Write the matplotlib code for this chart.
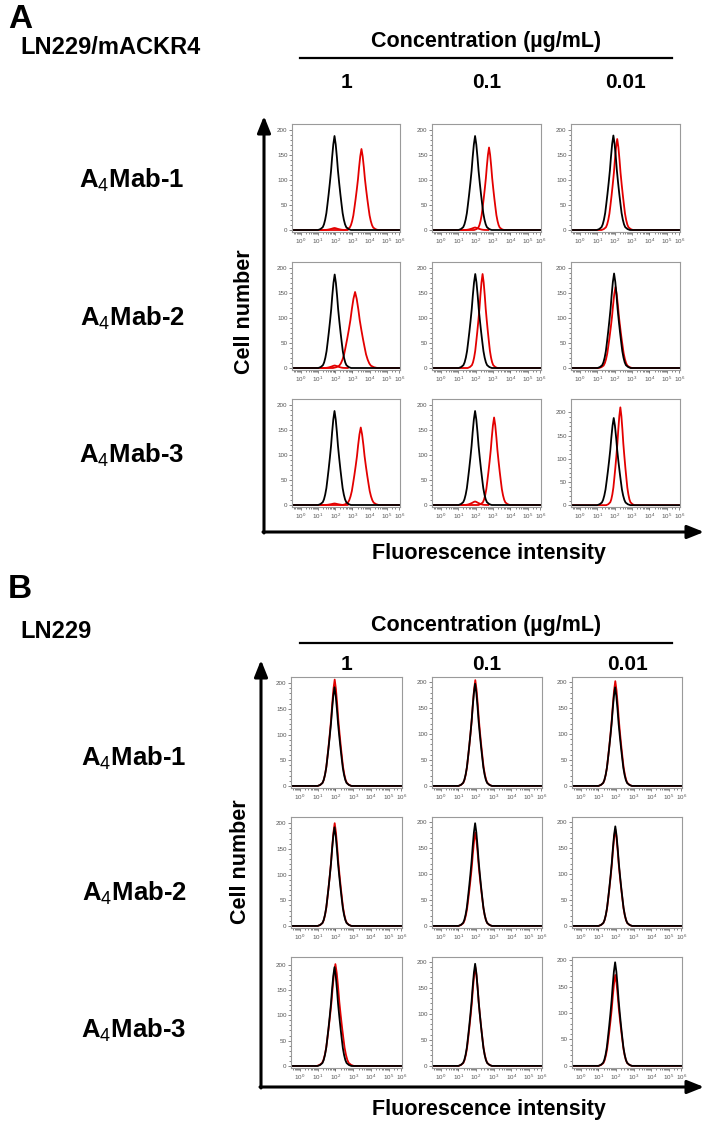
import numpy as np
import matplotlib.pyplot as plt

plt.rcParams['font.family'] = ['Liberation Sans', 'DejaVu Sans']
plt.rcParams['mathtext.fontset'] = 'custom'
plt.rcParams['mathtext.rm'] = 'Liberation Sans'
plt.rcParams['mathtext.bf'] = 'Liberation Sans:bold'
plt.rcParams['mathtext.it'] = 'Liberation Sans:italic'

# ---- data (x in decades of fluorescence, y = cell count) ----
CONCENTRATIONS = ["1", "0.1", "0.01"]
ANTIBODIES = ["A$_4$Mab-1", "A$_4$Mab-2", "A$_4$Mab-3"]
XTICK_LABELS = [r"$10^{0}$", r"$10^{1}$", r"$10^{2}$", r"$10^{3}$",
                r"$10^{4}$", r"$10^{5}$", r"$10^{6}$"]

# shape of one histogram peak (offset in decades, relative height)
SHAPE_OFFSET = [-0.95, -0.81, -0.68, -0.61, -0.54, -0.47, -0.41, -0.34, -0.27,
                -0.20, -0.14, -0.07, 0.00, 0.07, 0.14, 0.20, 0.27, 0.34, 0.41,
                0.47, 0.54, 0.61, 0.68, 0.81, 0.95]
SHAPE_LEVEL = [0.0, 0.01, 0.03, 0.06, 0.11, 0.18, 0.27, 0.38, 0.50, 0.63,
               0.77, 0.91, 1.00, 0.91, 0.77, 0.63, 0.50, 0.38, 0.27, 0.18,
               0.11, 0.06, 0.03, 0.01, 0.0]

# panel A: LN229/mACKR4   (rows = antibody, cols = concentration)
A_BLACK_CENTER = [[1.96, 1.97, 1.93], [1.97, 1.98, 1.97], [1.96, 1.97, 1.95]]
A_BLACK_HEIGHT = [[188, 188, 189], [187, 188, 189], [188, 188, 188]]
A_RED_CENTER = [[3.52, 2.77, 2.15], [3.15, 2.40, 2.05], [3.48, 3.06, 2.33]]
A_RED_HEIGHT = [[162, 165, 182], [152, 188, 162], [155, 175, 211]]
A_RED_WIDTH = [[1.0, 0.9, 0.95], [1.35, 0.9, 1.0], [1.1, 0.95, 0.85]]
A_BUMP_HEIGHT = [[4, 5, 0], [5, 0, 0], [3, 7, 0]]
A_YTOP = [[212, 212, 212], [212, 212, 212], [212, 212, 229]]

# panel B: LN229
B_BLACK_CENTER = [[1.95, 1.95, 1.95], [1.95, 1.95, 1.96], [1.95, 1.95, 1.95]]
B_BLACK_HEIGHT = [[192, 197, 190], [192, 198, 192], [195, 196, 196]]
B_RED_CENTER = [[1.96, 1.96, 1.96], [1.96, 1.96, 1.96], [2.0, 1.96, 1.96]]
B_RED_HEIGHT = [[207, 204, 202], [200, 180, 186], [201, 190, 172]]
B_RED_WIDTH = [[1.0, 1.0, 1.0], [1.0, 1.0, 1.0], [1.1, 1.0, 1.0]]
B_BUMP_HEIGHT = [[0, 0, 0], [0, 0, 0], [0, 0, 0]]
B_YTOP = [[212, 210, 210], [212, 210, 210], [215, 209, 206]]

W, H = 708, 1127
RED = "#e30000"
XMIN, XMAX = -0.5, 5.75

fig = plt.figure(figsize=(W / 100, H / 100), dpi=100)

# overlay in pixel coordinates for labels and the big arrows
ov = fig.add_axes([0, 0, 1, 1], zorder=-1)
ov.set_xlim(0, W)
ov.set_ylim(H, 0)
ov.axis("off")


def px_box(l, t, r, b):
    return [l / W, 1 - b / H, (r - l) / W, (b - t) / H]


def draw_hist(ax, bc, bh, rc, rh, rw, bump, ytop):
    off = np.array(SHAPE_OFFSET)
    lev = np.array(SHAPE_LEVEL)
    if bump:
        ax.plot(bc + 0.8 * off, bump * lev, color=RED, lw=1.3)
    ax.plot(np.concatenate([[XMIN], rc + rw * off, [XMAX]]),
            np.concatenate([[0], rh * lev, [0]]), color=RED, lw=1.3)
    ax.plot(np.concatenate([[XMIN], bc + off, [XMAX]]),
            np.concatenate([[0], bh * lev, [0]]), color="black", lw=1.3)

    ax.set_xlim(XMIN, XMAX)
    ax.set_ylim(-4, ytop)
    ax.set_xticks([0, 1, 2, 3, 4, 5, 5.72])
    ax.set_xticklabels(XTICK_LABELS)
    minor = [d + np.log10(k) for d in range(-1, 6) for k in range(2, 10)]
    ax.set_xticks([m for m in minor if XMIN < m < 5.5], minor=True)
    ax.set_yticks([0, 50, 100, 150, 200])
    ax.set_yticks(np.arange(0, 201, 10), minor=True)
    ax.tick_params(which="both", direction="out", width=0.5, colors="#555555",
                   labelsize=4.5, pad=1)
    ax.tick_params(which="major", length=2.2)
    ax.tick_params(which="minor", length=1.2)
    for s in ax.spines.values():
        s.set_color("#9a9a9a")
        s.set_linewidth(0.8)


def draw_block(cols, tops, h, data, cell, title_y, line_y, num_y, lab_x,
               lab_ys, arrow_x, arrow_top, arrow_y, panel, panel_y):
    bc, bh, rc, rh, rw, bump, ytop = data
    for i, t in enumerate(tops):
        for j, (l, r) in enumerate(cols):
            ax = fig.add_axes(px_box(l, t, r, t + h))
            draw_hist(ax, bc[i][j], bh[i][j], rc[i][j], rh[i][j], rw[i][j],
                      bump[i][j], ytop[i][j])
    # labels
    ov.text(8, panel_y, panel, fontsize=24, weight="bold", ha="left", va="center")
    ov.text(20, title_y + 6, cell, fontsize=17, weight="bold", ha="left", va="center")
    ov.text(486, title_y, "Concentration (µg/mL)", fontsize=15.5, weight="bold",
            ha="center", va="center")
    ov.plot([300, 672], [line_y, line_y], color="black", lw=1.6)
    for (l, r), c in zip(cols, CONCENTRATIONS):
        ov.text((l + r) / 2, num_y, c, fontsize=15, weight="bold",
                ha="center", va="center")
    for y, name in zip(lab_ys, ANTIBODIES):
        ov.text(lab_x, y, name, fontsize=18.5, weight="bold", ha="center", va="center")
    arrow = dict(arrowstyle="-|>,head_length=0.5,head_width=0.2", lw=2.2,
                 color="black", shrinkA=0, shrinkB=0, mutation_scale=20)
    ov.annotate("", xy=(arrow_x, arrow_top), xytext=(arrow_x, arrow_y + 1),
                arrowprops=arrow)
    ov.annotate("", xy=(704, arrow_y), xytext=(arrow_x - 1, arrow_y),
                arrowprops=arrow)
    ov.text(arrow_x - 20, (arrow_top + arrow_y) / 2 - 12, "Cell number",
            fontsize=15.5, weight="bold", rotation=90, ha="center", va="center")
    ov.text(489, arrow_y + 22, "Fluorescence intensity", fontsize=15.5,
            weight="bold", ha="center", va="center")


draw_block(cols=[(292, 400), (432, 541), (571, 680)], tops=[124, 262, 399], h=108,
           data=(A_BLACK_CENTER, A_BLACK_HEIGHT, A_RED_CENTER, A_RED_HEIGHT,
                 A_RED_WIDTH, A_BUMP_HEIGHT, A_YTOP),
           cell="LN229/mACKR4", title_y=42, line_y=58, num_y=82, lab_x=132,
           lab_ys=[180, 318, 455], arrow_x=264, arrow_top=116, arrow_y=532,
           panel="A", panel_y=19)

draw_block(cols=[(291, 402), (432, 542), (572, 682)], tops=[677, 817, 957], h=111,
           data=(B_BLACK_CENTER, B_BLACK_HEIGHT, B_RED_CENTER, B_RED_HEIGHT,
                 B_RED_WIDTH, B_BUMP_HEIGHT, B_YTOP),
           cell="LN229", title_y=625, line_y=643, num_y=664, lab_x=134,
           lab_ys=[758, 893, 1030], arrow_x=261, arrow_top=660, arrow_y=1087,
           panel="B", panel_y=590)

fig.savefig("out.png", dpi=100)
